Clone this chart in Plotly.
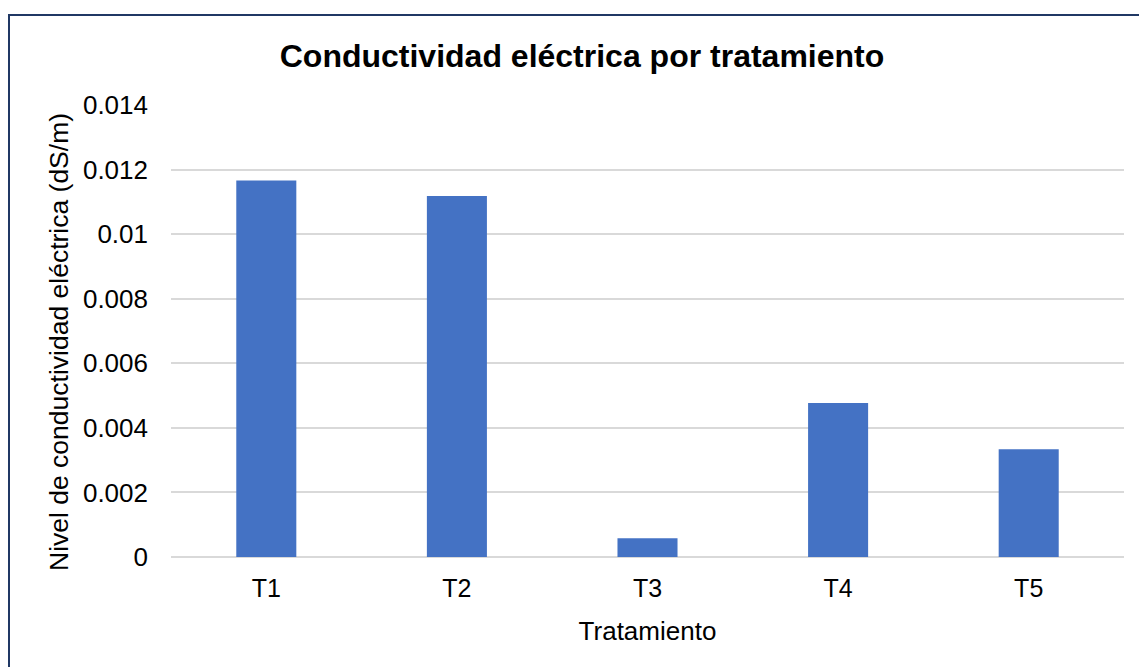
import plotly.graph_objects as go

categories = ["T1", "T2", "T3", "T4", "T5"]
values = [0.01166, 0.01118, 0.00058, 0.00477, 0.00334]
y_ticks = [0, 0.002, 0.004, 0.006, 0.008, 0.010, 0.012, 0.014]
y_tick_labels = ["0", "0.002", "0.004", "0.006", "0.008", "0.01", "0.012", "0.014"]

FONT = "Liberation Sans, Arial, sans-serif"

fig = go.Figure(
    go.Bar(x=categories, y=values, marker=dict(color="#4472C4", line=dict(width=0)))
)

W, H = 1139, 667
L, R, T, B = 171, 15, 105, 110
pw, ph = W - L - R, H - T - B

fig.update_layout(
    width=W, height=H,
    margin=dict(l=L, r=R, t=T, b=B),
    paper_bgcolor="white", plot_bgcolor="white",
    bargap=0.685,
    showlegend=False,
    font=dict(family=FONT, color="#000000"),
    title=dict(
        text="<b>Conductividad eléctrica por tratamiento</b>",
        x=582 / W, xanchor="center",
        y=1 - 56 / H, yanchor="middle", yref="container",
        font=dict(size=32, family=FONT, color="#000000"),
    ),
    xaxis=dict(
        showgrid=False, showline=False, ticks="",
        tickfont=dict(size=25, family=FONT, color="#000000"),
        ticklabelstandoff=14,
        title=dict(text="Tratamiento", font=dict(size=26, family=FONT, color="#000000"), standoff=20),
    ),
    yaxis=dict(
        range=[0, 0.014],
        tickvals=y_ticks, ticktext=y_tick_labels,
        showgrid=True, gridcolor="#D9D9D9", gridwidth=1.5,
        zeroline=True, zerolinecolor="#D9D9D9", zerolinewidth=1.5,
        showline=False, ticks="",
        tickfont=dict(size=26, family=FONT, color="#000000"),
        ticklabelstandoff=22,
    ),
    annotations=[dict(
        text="Nivel de conductividad eléctrica (dS/m)",
        xref="paper", yref="paper",
        x=(58.5 - L) / pw, y=(L + ph + T - L - 342.5) / ph,
        xanchor="center", yanchor="middle", textangle=-90, showarrow=False,
        font=dict(size=26.5, family=FONT, color="#000000"),
    )],
    shapes=[dict(
        type="rect", xref="paper", yref="paper",
        x0=(9 - L) / pw, x1=(W + 20 - L) / pw,
        y0=-(H + 20 - T - ph) / ph, y1=1 + (T - 15) / ph,
        line=dict(color="#203864", width=2), fillcolor="rgba(0,0,0,0)", layer="below",
    )],
)

fig.write_html(
    "out.html",
    config={"displayModeBar": False},
    post_script="document.body.style.margin='0';document.body.style.overflow='hidden';",
)
